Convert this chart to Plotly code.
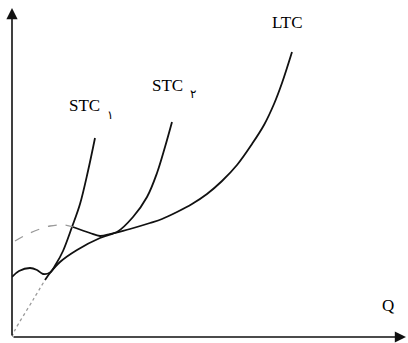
import plotly.graph_objects as go
import numpy as np

# Long-run total cost envelope (Q, cost)
ltc_q = [0, 3, 21, 33, 38, 48, 65, 88, 103, 118, 138, 150, 165, 180, 195, 210, 225, 240, 252, 262, 270, 280]
ltc_c = [0, 7, 37, 57, 64, 75, 87, 99, 104, 108, 114, 118, 125, 133, 143, 156, 172, 193, 212, 233, 254, 285]

# Short-run total cost, plant 1
stc1_q = [0, 7, 18, 25, 31, 38, 44, 51, 60, 68, 76, 83]
stc1_c = [60, 66, 69, 67, 63, 64.5, 73, 86, 110, 133, 166, 199]

# Short-run total cost, plant 2
stc2_q = [3, 18, 38, 53, 61, 78, 88, 98, 105, 121, 135, 145, 153, 160]
stc2_c = [96, 104, 111, 112, 110, 104, 101, 103, 105, 120, 140, 164, 190, 215]

X_MAX, Y_MAX = 396, 337
INK = "#111111"
FAINT = "#9a9a9a"


def split(q, c, q_cut):
    q = np.asarray(q, float)
    c = np.asarray(c, float)
    lo = q <= q_cut
    hi = q >= q_cut
    return (q[lo], c[lo]), (q[hi], c[hi])


fig = go.Figure()


def add_curve(q, c, color, width, dash="solid"):
    fig.add_trace(go.Scatter(
        x=q, y=c, mode="lines",
        line=dict(color=color, width=width, shape="spline", smoothing=1.0, dash=dash),
        hoverinfo="skip", showlegend=False,
    ))


# LTC: faint near the origin, solid beyond
(lq0, lc0), (lq1, lc1) = split(ltc_q, ltc_c, 33)
add_curve(lq0, lc0, FAINT, 1.3, "dot")
add_curve(lq1, lc1, INK, 1.8)

# STC1
add_curve(stc1_q, stc1_c, INK, 1.8)

# STC2: faint on its rising left arm, solid after it crosses STC1
(sq0, sc0), (sq1, sc1) = split(stc2_q, stc2_c, 61)
add_curve(sq0, sc0, FAINT, 1.3, "dash")
add_curve(sq1, sc1, INK, 1.8)

serif = dict(family="Liberation Serif", size=17, color="#000000")
digit = dict(family="DejaVu Serif, DejaVu Sans", size=12, color="#000000")

annotations = [
    # axes with arrowheads
    dict(x=394, y=0, ax=0, ay=0, xref="x", yref="y", axref="x", ayref="y",
         text="", showarrow=True, arrowhead=2, arrowsize=1.4, arrowwidth=1.6,
         arrowcolor=INK),
    dict(x=0, y=329, ax=0, ay=0, xref="x", yref="y", axref="x", ayref="y",
         text="", showarrow=True, arrowhead=2, arrowsize=1.4, arrowwidth=1.6,
         arrowcolor=INK),
    # labels
    dict(x=275, y=315, text="LTC", showarrow=False, font=serif),
    dict(x=72, y=232, text="STC", showarrow=False, font=serif),
    dict(x=98, y=222, text="۱", showarrow=False, font=digit),
    dict(x=155, y=252, text="STC", showarrow=False, font=serif),
    dict(x=181, y=243, text="۲", showarrow=False, font=digit),
    dict(x=376, y=32, text="Q", showarrow=False, font=serif),
]

fig.update_layout(
    width=408, height=343,
    margin=dict(l=12, r=0, t=0, b=6),
    paper_bgcolor="white", plot_bgcolor="white",
    xaxis=dict(range=[0, X_MAX], visible=False, fixedrange=True),
    yaxis=dict(range=[0, Y_MAX], visible=False, fixedrange=True),
    annotations=annotations,
    showlegend=False,
)

fig.write_html("out.html", config=dict(displayModeBar=False))
